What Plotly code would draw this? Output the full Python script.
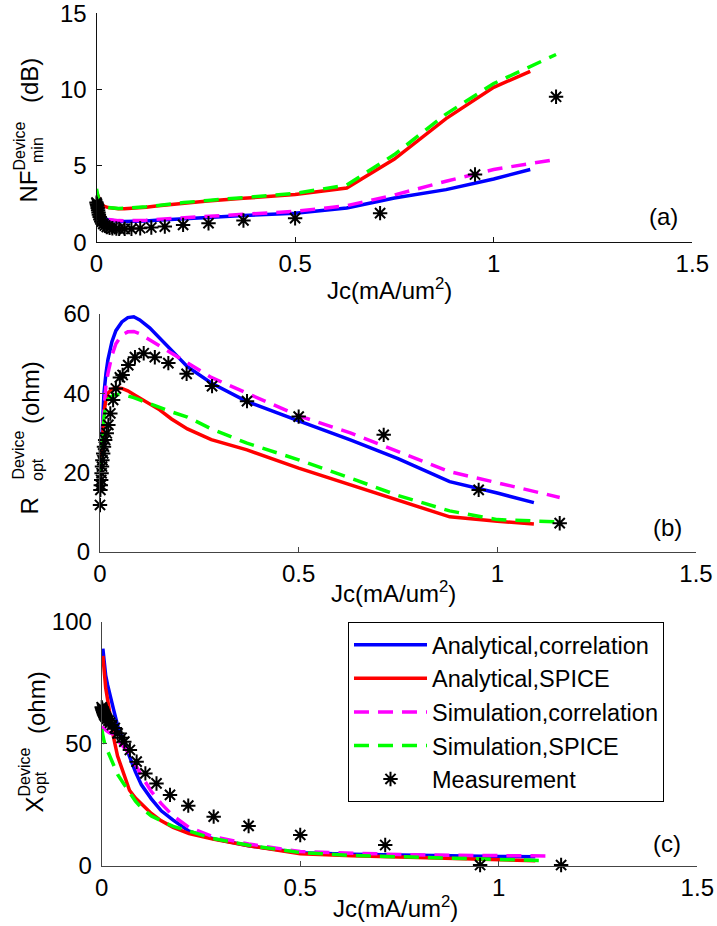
import plotly.graph_objects as go

W, H = 717, 926
FONT = "Liberation Sans, Arial, Helvetica, sans-serif"

# ---------------- data ----------------
series_names = ["Analytical,correlation", "Analytical,SPICE",
                "Simulation,correlation", "Simulation,SPICE", "Measurement"]

jc_ana = [0.003, 0.006, 0.01, 0.015, 0.02, 0.03, 0.04, 0.055, 0.07, 0.085, 0.1, 0.125,
          0.15, 0.18, 0.22, 0.28, 0.37, 0.5, 0.63, 0.75, 0.88, 1.0, 1.092]
jc_sim = [0.0, 0.003, 0.006, 0.01, 0.015, 0.02, 0.03, 0.04, 0.055, 0.07, 0.085, 0.1, 0.125,
          0.15, 0.18, 0.22, 0.28, 0.37, 0.5, 0.63, 0.75, 0.88, 1.0, 1.157]
jc_sim_c = [0.0, 0.003, 0.006, 0.01, 0.015, 0.02, 0.03, 0.04, 0.055, 0.07, 0.085, 0.1, 0.125,
            0.15, 0.18, 0.22, 0.28, 0.37, 0.5, 0.63, 0.75, 0.88, 1.0, 1.12]
jc_meas = [0.0, 0.001, 0.002, 0.003, 0.004, 0.005, 0.006, 0.008, 0.010, 0.013, 0.017, 0.021,
           0.026, 0.033, 0.040, 0.050, 0.057, 0.071, 0.088, 0.110, 0.138, 0.172, 0.218,
           0.282, 0.370, 0.500, 0.714, 0.953, 1.157]

# (a) NFmin (dB)
nf_ana_corr = [2.3, 2.0, 1.8, 1.65, 1.55, 1.47, 1.42, 1.38, 1.36, 1.36, 1.37, 1.4,
               1.44, 1.49, 1.55, 1.63, 1.75, 1.91, 2.25, 2.9, 3.45, 4.15, 4.77]
nf_ana_spice = [3.1, 2.8, 2.6, 2.45, 2.35, 2.27, 2.22, 2.2, 2.2, 2.22, 2.25, 2.3,
                2.38, 2.46, 2.57, 2.7, 2.88, 3.13, 3.55, 5.45, 8.1, 10.15, 11.2]
nf_sim_corr = [2.7, 2.3, 2.0, 1.8, 1.65, 1.57, 1.5, 1.45, 1.42, 1.41, 1.41, 1.42, 1.45,
               1.5, 1.55, 1.62, 1.72, 1.85, 2.03, 2.4, 3.1, 4.0, 4.77, 5.43]
nf_sim_spice = [3.5, 3.0, 2.75, 2.55, 2.42, 2.35, 2.28, 2.24, 2.22, 2.23, 2.25, 2.28, 2.33,
                2.4, 2.5, 2.6, 2.74, 2.93, 3.2, 3.75, 5.75, 8.4, 10.4, 12.3]
nf_meas = [2.6, 2.5, 2.4, 2.25, 2.1, 1.95, 1.8, 1.65, 1.5, 1.35, 1.2, 1.1,
           1.0, 0.95, 0.92, 0.9, 0.88, 0.88, 0.88, 0.92, 0.97, 1.03, 1.14,
           1.25, 1.43, 1.58, 1.91, 4.44, 9.53]

# (b) Ropt (ohm)
r_ana_corr = [25, 33, 40, 45, 48.5, 53, 55.8, 58, 59.1, 59.3, 58.5, 56.5,
              54, 50.8, 46.7, 42.6, 37.9, 33, 28.2, 23.5, 17.7, 14.8, 12.4]
r_ana_spice = [22, 29, 35, 38.5, 40, 41, 41.3, 41.2, 40.6, 39.7, 38.8, 37.3,
               35.8, 33.5, 31, 28.3, 25.7, 21.1, 16.9, 12.8, 8.8, 7.7, 7.0]
r_sim_corr = [20, 24, 31, 37, 42, 45, 49.5, 52.5, 54.7, 55.5, 55.6, 55, 53.5,
              51.8, 50, 47.8, 44, 40, 34.3, 30, 25.4, 20.2, 17.4, 13.7]
r_sim_spice = [20, 23, 29, 34, 37, 38.5, 39.3, 39.7, 39.7, 39.4, 38.9, 38.3, 37.3,
               36.4, 35.3, 34, 31, 27.4, 23.2, 18.6, 14.2, 10.3, 8.1, 7.5]
r_meas = [11.8, 15.6, 16.8, 18.1, 19.8, 21.5, 23.1, 24.8, 26.5, 28.2, 29.9, 32.0,
          34.9, 38.3, 41.2, 44.0, 44.6, 47.1, 49.1, 50.1, 49.1, 47.6, 44.9,
          41.8, 38.0, 34.1, 29.5, 15.6, 7.2]

# (c) Xopt (ohm)
x_ana_corr = [89, 83, 78, 74, 71, 64, 57.5, 51, 44.5, 38.5, 33.2, 27.5,
              22.6, 18.8, 14.3, 11.2, 8.3, 5.4, 4.8, 4.4, 4.1, 3.9, 3.8]
x_ana_spice = [86, 80, 73, 68, 62, 52.5, 45, 37.5, 31, 27.8, 25.5, 21.5,
               18.5, 15.8, 13.3, 11, 8.3, 5.0, 4.2, 3.6, 3.0, 2.5, 2.2]
x_sim_corr = [57, 56.5, 56, 55.5, 55, 54.5, 54, 51.5, 49, 46, 41.5, 37, 30.5,
              25.5, 20.5, 15.8, 12, 9, 5.9, 5.1, 4.7, 4.4, 4.2, 4.1]
x_sim_spice = [56, 53, 51, 49, 47, 45, 41, 37.5, 33.8, 30, 26.5, 23.8, 20.5,
               18.5, 16.2, 14.3, 11.3, 8.5, 5.5, 4.3, 3.7, 3.1, 2.6, 2.2]
x_meas = [65, 64.5, 64, 63.5, 63, 62.5, 62, 61.5, 61, 60.3, 59.5, 58.7,
          57.7, 56.5, 54.3, 52.5, 50.9, 47.5, 42.7, 37.9, 33.8, 29.1, 24.7,
          20.2, 16.4, 12.7, 8.6, 0.4, 0.4]

x_ticks = [0, 0.5, 1, 1.5]
x_ticktext = ["0", "0.5", "1", "1.5"]
ya_ticks = [0, 5, 10, 15]
yb_ticks = [0, 20, 40, 60]
yc_ticks = [0, 50, 100]

# ---------------- styles ----------------
colors = ["#0000ff", "#ff0000", "#ff00ff", "#00ff00", "#000000"]
dashes = ["solid", "solid", "15px,9px", "15px,9px"]
LW = 3.5

fig = go.Figure()

panels = [
    ("x", "y", [jc_ana, jc_ana, jc_sim, jc_sim, jc_meas],
     [nf_ana_corr, nf_ana_spice, nf_sim_corr, nf_sim_spice, nf_meas]),
    ("x2", "y2", [jc_ana, jc_ana, jc_sim, jc_sim, jc_meas],
     [r_ana_corr, r_ana_spice, r_sim_corr, r_sim_spice, r_meas]),
    ("x3", "y3", [jc_ana, jc_ana, jc_sim_c, jc_sim_c, jc_meas],
     [x_ana_corr, x_ana_spice, x_sim_corr, x_sim_spice, x_meas]),
]

for pi, (xa, ya, xs, ys) in enumerate(panels):
    for si in range(5):
        show = (pi == 0)
        if si < 4:
            fig.add_trace(go.Scatter(
                x=xs[si], y=ys[si], mode="lines", name=series_names[si],
                line=dict(color=colors[si], width=LW, dash=dashes[si]),
                xaxis=xa, yaxis=ya, showlegend=show, legendrank=si + 1))
        else:
            fig.add_trace(go.Scatter(
                x=xs[si], y=ys[si], mode="markers", name=series_names[si],
                marker=dict(symbol="asterisk-open", size=12, color="black",
                            line=dict(color="black", width=2)),
                cliponaxis=False,
                xaxis=xa, yaxis=ya, showlegend=show, legendrank=5))


def px(xp):
    return xp / W


def py(yp):
    return 1 - yp / H


tickfont = dict(family=FONT, size=24, color="black")

common_x = dict(range=[0, 1.5], tickvals=x_ticks, ticktext=x_ticktext, ticks="inside",
                ticklen=5, showgrid=False, zeroline=False, showline=True,
                tickfont=tickfont, fixedrange=True, automargin=False,
                ticklabeloverflow="allow")
common_y = dict(ticks="inside", ticklen=5, showgrid=False, zeroline=False,
                showline=True, tickfont=tickfont, ticklabelstandoff=4, fixedrange=True,
                automargin=False, ticklabeloverflow="allow")

ax_col = ["#111111", "#444444", "#444444"]

fig.update_layout(
    width=W, height=H, margin=dict(l=0, r=0, t=0, b=0, pad=0, autoexpand=False),
    paper_bgcolor="white", plot_bgcolor="white",
    font=dict(family=FONT, size=24, color="black"),
    xaxis=dict(domain=[px(96.5), px(692.3)], anchor="y", linecolor=ax_col[0],
               tickcolor=ax_col[0], **common_x),
    yaxis=dict(domain=[py(242.3), py(13.3)], anchor="x", range=[0, 15],
               tickvals=ya_ticks, linecolor=ax_col[0], tickcolor=ax_col[0], **common_y),
    xaxis2=dict(domain=[px(100), px(696)], anchor="y2", linecolor=ax_col[1],
                tickcolor=ax_col[1], **common_x),
    yaxis2=dict(domain=[py(551.7), py(314)], anchor="x2", range=[0, 60],
                tickvals=yb_ticks, linecolor=ax_col[1], tickcolor=ax_col[1], **common_y),
    xaxis3=dict(domain=[px(101.7), px(697.3)], anchor="y3", linecolor=ax_col[2],
                tickcolor=ax_col[2], **common_x),
    yaxis3=dict(domain=[py(866), py(621.7)], anchor="x3", range=[0, 100],
                tickvals=yc_ticks, linecolor=ax_col[2], tickcolor=ax_col[2], **common_y),
    legend=dict(x=px(348), y=py(622), xanchor="left", yanchor="top",
                bgcolor="white", bordercolor="black", borderwidth=1,
                font=dict(family=FONT, size=23.5, color="black"),
                itemwidth=73, tracegroupgap=0, traceorder="normal"),
)

annos = []


def add_text(text, x, y, size=24, angle=0):
    annos.append(dict(text=text, x=px(x), y=py(y), xref="paper", yref="paper",
                      xanchor="center", yanchor="middle", showarrow=False,
                      textangle=angle, font=dict(family=FONT, size=size, color="black")))


# x-axis titles
add_text("Jc(mA/um<sup>2</sup>)", 389, 289)
add_text("Jc(mA/um<sup>2</sup>)", 393, 592)
add_text("Jc(mA/um<sup>2</sup>)", 395, 907)

# panel labels
add_text("(a)", 663, 216)
add_text("(b)", 667, 527)
add_text("(c)", 667, 843)

# y-axis titles (stacked super/subscripts)
add_text("NF", 27.5, 187, 24, -90)
add_text("Device", 18.5, 146, 16, -90)
add_text("min", 38, 150, 16, -90)
add_text("(dB)", 29, 81, 24, -90)

add_text("R", 28.5, 506, 24, -90)
add_text("Device", 18.5, 455, 16, -90)
add_text("opt", 37, 470, 16, -90)
add_text("(ohm)", 30, 393, 24, -90)

add_text("X", 33.5, 805, 24, -90)
add_text("Device", 23.5, 772, 16, -90)
add_text("opt", 40, 783, 16, -90)
add_text("(ohm)", 36, 703, 24, -90)

fig.update_layout(annotations=annos)

fig.write_html("out.html", config={"displayModeBar": False},
               post_script="document.body.style.margin='0px';")
